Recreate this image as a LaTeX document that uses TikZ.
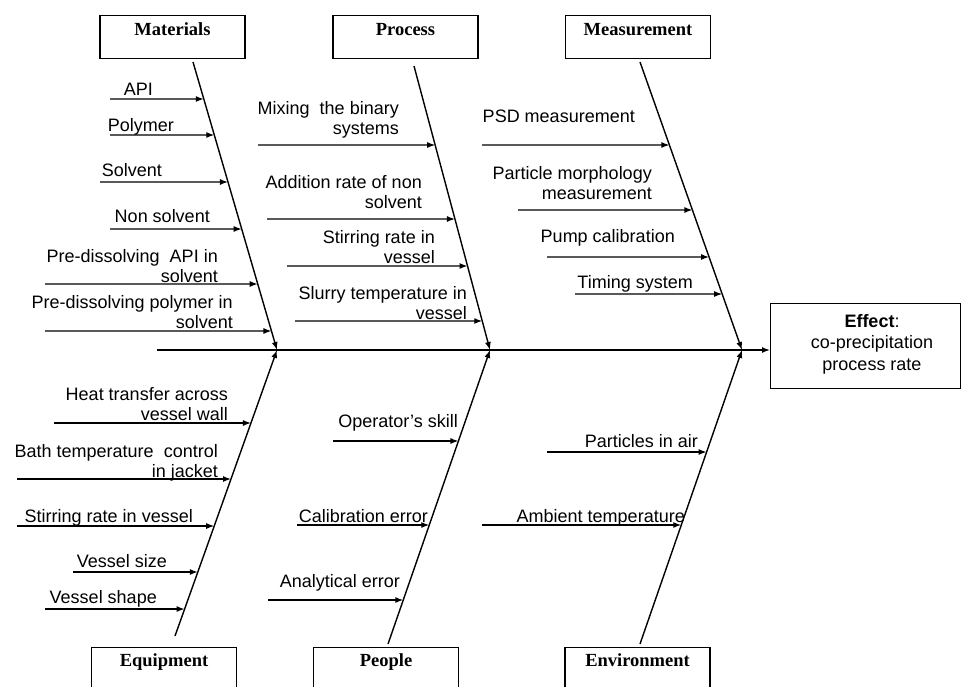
\documentclass[tikz,border=0pt]{standalone}
\usepackage{fontspec}
\setmainfont{Liberation Sans}
\newfontfamily\titlefont{Liberation Serif}
\usetikzlibrary{arrows.meta}
\tikzset{
  catbox/.style={draw, line width=1.4pt, minimum width=145pt, minimum height=43pt,
    anchor=north, inner xsep=0pt, inner ysep=6pt, text height=13pt, text depth=17pt,
    font=\titlefont\bfseries\fontsize{18.5}{20}\selectfont},
  botbox/.style={catbox, minimum height=65pt, text depth=40pt},
  lbl/.style={font=\fontsize{18}{20}\selectfont, align=right, inner sep=0pt, anchor=base east},
  arr/.style={-{Latex[length=8pt,width=6pt]}, line width=1.3pt},
  ribline/.style={arr, line width=1.4pt}
}
\newcommand\cause[8]{%
  \node[lbl] (#1) at (#6,#7) {#8};
  \coordinate (#1s) at (#2,#3);
  \draw[arr] (#1s) -- (intersection of #2,#3--1000,#3 and #4--#5);
}
\begin{document}
\begin{tikzpicture}[x=1pt,y=-1pt]
\useasboundingbox (0,0) rectangle (961,686);
\clip (0,0) rectangle (961,686);
% category boxes
\node[catbox] (mat) at (172.5,15) {Materials};
\node[catbox] (pro) at (405.5,15) {Process};
\node[catbox] (mea) at (638,15) {Measurement};
\node[botbox] (equ) at (164,647) {Equipment};
\node[botbox] (peo) at (386,647) {People};
\node[botbox] (env) at (637.5,647) {Environment};
% effect
\node[draw, line width=1.4pt, minimum width=190pt, minimum height=85pt, anchor=north west, inner sep=0pt] (eff) at (770,303) {};
\node[font=\fontsize{18}{21.5}\selectfont, align=center, anchor=base, inner sep=0pt] (efft) at (872,370) {\textbf{Effect}:\\co-precipitation\\process rate};
% spine
\coordinate (sp0) at (157,350);
\draw[arr, line width=1.4pt] (sp0) -- (sp0 -| eff.west);
% ribs
\coordinate (mt) at (193,62);  \coordinate (mj) at (277,350);
\coordinate (pt) at (414,66);  \coordinate (pj) at (490,350);
\coordinate (st) at (640,62);  \coordinate (sj) at (742,350);
\coordinate (et) at (175,636);
\coordinate (ot) at (388,644);
\coordinate (vt) at (640,644);
\draw[ribline] (mt) -- (mj);
\draw[ribline] (pt) -- (pj);
\draw[ribline] (st) -- (sj);
\draw[ribline] (et) -- (mj);
\draw[ribline] (ot) -- (pj);
\draw[ribline] (vt) -- (sj);
% Materials
\cause{m1}{110}{99}{mt}{mj}{153}{95}{API}
\cause{m2}{110}{135}{mt}{mj}{174}{131}{Polymer}
\cause{m3}{100}{182}{mt}{mj}{162}{176}{Solvent}
\cause{m4}{110}{229}{mt}{mj}{210}{222}{Non solvent}
\cause{m5}{45}{284}{mt}{mj}{218}{282}{Pre-dissolving\ \ API in\\solvent}
\cause{m6}{45}{331}{mt}{mj}{233}{328}{Pre-dissolving polymer in\\solvent}
% Process
\cause{p1}{258}{145}{pt}{pj}{399}{134}{Mixing\ \ the binary\\systems}
\cause{p2}{267}{219}{pt}{pj}{422}{208}{Addition rate of non\\solvent}
\cause{p3}{287}{266}{pt}{pj}{435}{263}{Stirring rate in\\vessel}
\cause{p4}{295}{321}{pt}{pj}{467}{319}{Slurry temperature in\\vessel}
% Measurement
\cause{s1}{482}{145}{st}{sj}{635}{122}{PSD measurement}
\cause{s2}{518}{210}{st}{sj}{652}{199}{Particle morphology\\measurement}
\cause{s3}{547}{257}{st}{sj}{675}{242}{Pump calibration}
\cause{s4}{575}{294}{st}{sj}{693}{288}{Timing system}
% Equipment
\cause{e1}{54}{423}{et}{mj}{228}{420}{Heat transfer across\\vessel wall}
\cause{e2}{17}{479}{et}{mj}{218}{477}{Bath temperature\ \ control\\in jacket}
\cause{e3}{17}{526}{et}{mj}{193}{522}{Stirring rate in vessel}
\cause{e4}{73}{572}{et}{mj}{167}{567}{Vessel size}
\cause{e5}{45}{609}{et}{mj}{157}{603}{Vessel shape}
% People
\cause{o1}{333}{441}{ot}{pj}{458}{427}{Operator’s skill}
\cause{o2}{297}{525}{ot}{pj}{428}{522}{Calibration error}
\cause{o3}{268}{600}{ot}{pj}{400}{587}{Analytical error}
% Environment
\cause{v1}{547}{452}{vt}{sj}{698}{447}{Particles in air}
\cause{v2}{482}{525}{vt}{sj}{685}{522}{Ambient temperature}
\end{tikzpicture}
\end{document}
